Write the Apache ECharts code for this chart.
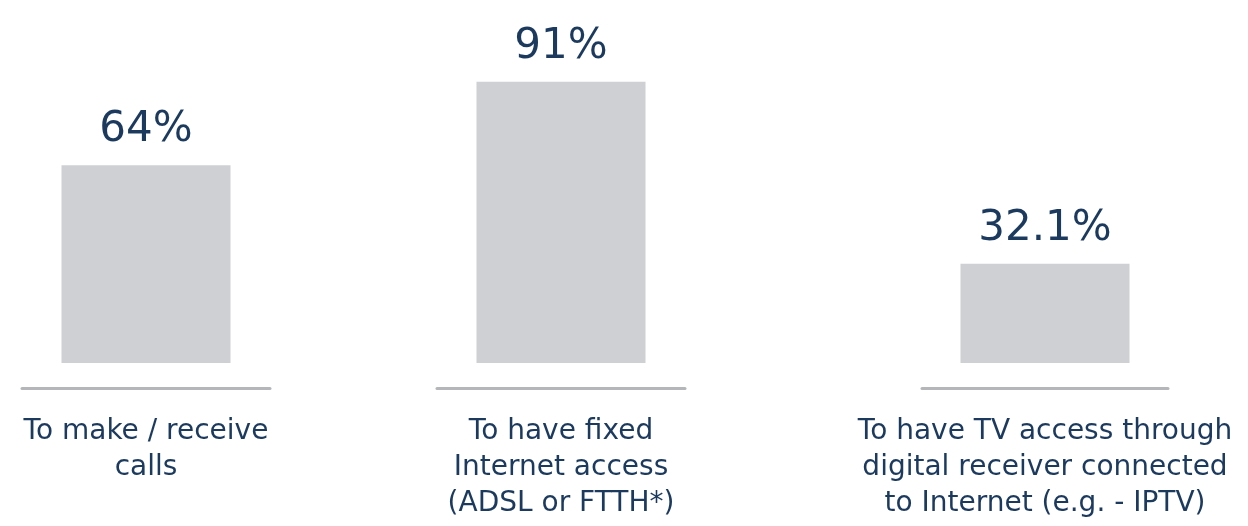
<!DOCTYPE html>
<html>
<head>
<meta charset="utf-8">
<script src="https://cdn.jsdelivr.net/npm/echarts@6/dist/echarts.min.js"></script>
<style>
html,body{margin:0;padding:0;background:#fff;}
#chart{width:1248px;height:526px;}
</style>
</head>
<body>
<div id="chart"></div>
<script>
const categories = [
  "To make / receive\ncalls",
  "To have fixed\nInternet access\n(ADSL or FTTH*)",
  "To have TV access through\ndigital receiver connected\nto Internet (e.g. - IPTV)"
];
const values = [64, 91, 32.1];

const gridLefts = [22, 437, 922];
const gridWidths = [248, 248, 246];
const FONT = 'DejaVu Sans';
const TEXT = '#1c3a5e';

const chart = echarts.init(document.getElementById('chart'));
const grids = [], xAxes = [], yAxes = [], series = [];
categories.forEach((c, i) => {
  grids.push({left: gridLefts[i], width: gridWidths[i], top: 54, bottom: 163, containLabel: false});
  xAxes.push({
    type: 'category', gridIndex: i, data: [c], offset: 25,
    axisLine: {show: true, onZero: false, lineStyle: {color: '#b5b6b9', width: 3}},
    axisTick: {show: false},
    axisLabel: {fontFamily: FONT, fontSize: 28, color: TEXT, lineHeight: 36, margin: 26, align: 'center', interval: 0}
  });
  yAxes.push({type: 'value', gridIndex: i, min: 0, max: 100, show: false, splitLine: {show: false}});
  series.push({
    type: 'bar', xAxisIndex: i, yAxisIndex: i, data: [values[i]], barWidth: 169,
    itemStyle: {color: '#cfd0d4'},
    label: {show: true, position: 'top', distance: 14, fontFamily: FONT, fontSize: 42, color: TEXT,
      formatter: p => p.value + '%'}
  });
});
chart.setOption({animation: false, grid: grids, xAxis: xAxes, yAxis: yAxes, series: series});
</script>
</body>
</html>
